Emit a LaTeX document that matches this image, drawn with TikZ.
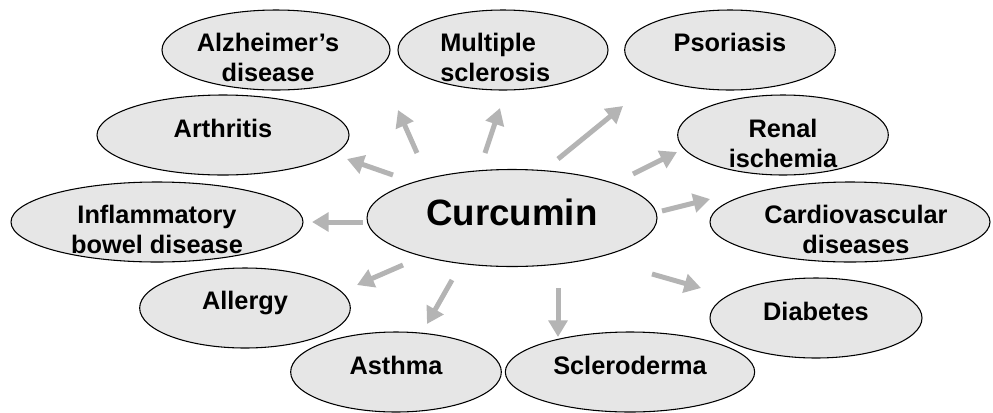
\documentclass[tikz,border=0pt]{standalone}
\usepackage{fontspec}
\setmainfont{Liberation Sans}
\usetikzlibrary{shapes.geometric,arrows.meta}
\definecolor{ellfill}{HTML}{E6E6E6}
\definecolor{arrgray}{HTML}{B4B4B4}
\tikzset{
  dis/.style={ellipse, draw=black, line width=0.8pt, fill=ellfill, inner sep=0pt, minimum height=60pt},
  lbl/.style={font=\bfseries\fontsize{19}{22.5}\selectfont, align=center, inner sep=0pt, text=black},
  arr/.style={draw=arrgray, line width=3.75pt, -{Triangle[width=14pt,length=12.5pt]}},
}
\begin{document}
\begin{tikzpicture}[x=0.75pt,y=-0.75pt]
\useasboundingbox (0,0) rectangle (993,412);
% ellipses
\node[dis, minimum width=171pt] (alz) at (276,50) {};
\node[dis, minimum width=157.5pt] (ms) at (503,50) {};
\node[dis, minimum width=158pt] (pso) at (730,50) {};
\node[dis, minimum width=189pt] (arth) at (223,135) {};
\node[dis, minimum width=158pt] (ren) at (783,135) {};
\node[dis, minimum width=219pt] (ibd) at (157,222) {};
\node[dis, minimum width=210pt] (cv) at (850,222) {};
\node[dis, minimum width=217.5pt, minimum height=72.75pt] (cur) at (512,218) {};
\node[dis, minimum width=158pt] (all) at (245,308) {};
\node[dis, minimum width=159pt] (dia) at (816,318) {};
\node[dis, minimum width=158pt] (ast) at (396,372) {};
\node[dis, minimum width=187pt] (scl) at (630,372) {};
% labels
\node[lbl] (alzT) at (268,57) {Alzheimer's\\disease};
\node[lbl, align=left, anchor=west] (msT) at (440,57) {Multiple\\sclerosis};
\node[lbl] (psoT) at (730,42) {Psoriasis};
\node[lbl] (arthT) at (223,128.5) {Arthritis};
\node[lbl] (renT) at (783,143) {Renal\\ischemia};
\node[lbl] (ibdT) at (157,229) {Inflammatory\\bowel disease};
\node[lbl] (cvT) at (856,229) {Cardiovascular\\diseases};
\node[lbl, font=\bfseries\fontsize{27.5}{30}\selectfont] (curT) at (512,212.5) {Curcumin};
\node[lbl] (allT) at (245,303) {Allergy};
\node[lbl] (diaT) at (816,311) {Diabetes};
\node[lbl] (astT) at (396,365.5) {Asthma};
\node[lbl] (sclT) at (630,365.5) {Scleroderma};
% arrow end points
\coordinate (a1s) at (393,175); \coordinate (a1e) at (347,159);
\coordinate (a2s) at (417,153); \coordinate (a2e) at (398,110);
\coordinate (a3s) at (485,153); \coordinate (a3e) at (500,108);
\coordinate (a4s) at (558,159); \coordinate (a4e) at (623,106);
\coordinate (a5s) at (633,174); \coordinate (a5e) at (677,152);
\coordinate (a6s) at (662,211); \coordinate (a6e) at (710,199);
\coordinate (a7s) at (652,274); \coordinate (a7e) at (701,288);
\coordinate (a8s) at (558,288); \coordinate (a8e) at (558,337);
\coordinate (a9s) at (452,280); \coordinate (a9e) at (427,324);
\coordinate (a10s) at (403,265); \coordinate (a10e) at (357,285);
\coordinate (a11s) at (363,222); \coordinate (a11e) at (312,222);
\foreach \i in {1,...,11} { \draw[arr] (a\i s) -- (a\i e); }
\end{tikzpicture}
\end{document}
